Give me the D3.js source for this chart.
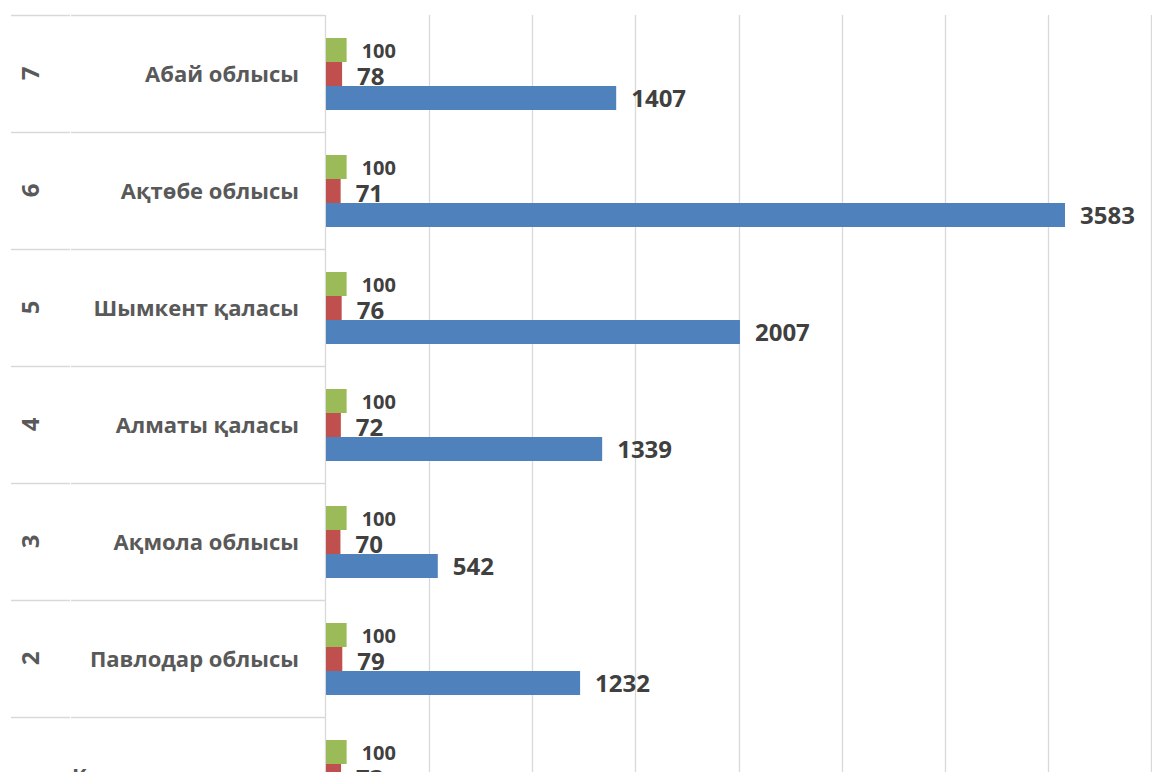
<!DOCTYPE html>
<html>
<head>
<meta charset="utf-8">
<script src="https://cdn.jsdelivr.net/npm/d3@7"></script>
<style>
  html, body { margin: 0; padding: 0; background: #fff; overflow: hidden; }
  svg { display: block; }
  text { font-family: "Open Sans", "DejaVu Sans", sans-serif; font-weight: bold; }
</style>
</head>
<body>
<svg id="chart" width="1152" height="772"></svg>
<script>
// Categories listed top to bottom
const ranks = ["7", "6", "5", "4", "3", "2", "1"];
const regions = ["Абай облысы", "Ақтөбе облысы", "Шымкент қаласы", "Алматы қаласы", "Ақмола облысы", "Павлодар облысы", "Қызылорда қаласы"];
const greenValues = [100, 100, 100, 100, 100, 100, 100];
const redValues = [78, 71, 76, 72, 70, 79, 73];
const blueValues = [1407, 3583, 2007, 1339, 542, 1232, 1150];
const xTicks = [0, 500, 1000, 1500, 2000, 2500, 3000, 3500, 4000];

const svg = d3.select("#chart");
const x = d3.scaleLinear().domain([0, 4000]).range([326, 1151]);
const y = d3.scaleBand().domain(ranks).range([15, 15 + 117 * ranks.length]).padding(0);
const seriesKeys = ["green", "red", "blue"];
const inner = d3.scaleBand().domain(seriesKeys).range([23, 95]).padding(0);
const colors = { green: "#9BBB59", red: "#C0504D", blue: "#4F81BD" };
const gridColor = "#d9d9d9";

// Gridlines
svg.append("g").selectAll("line").data(xTicks.slice(1)).join("line")
  .attr("x1", d => Math.round(x(d)) + 0.5).attr("x2", d => Math.round(x(d)) + 0.5)
  .attr("y1", 15).attr("y2", 772)
  .attr("stroke", gridColor).attr("stroke-width", 1.3);

// Axis line
svg.append("line").attr("x1", 325.5).attr("x2", 325.5).attr("y1", 15).attr("y2", 772)
  .attr("stroke", gridColor).attr("stroke-width", 1.3);

// Category separators (two-level axis)
const bounds = ranks.map(r => y(r));
const sep = svg.append("g");
sep.selectAll("line.outer").data(bounds).join("line").attr("class", "outer")
  .attr("x1", 11).attr("x2", 70).attr("y1", d => d + 0.5).attr("y2", d => d + 0.5)
  .attr("stroke", gridColor).attr("stroke-width", 1.3);
sep.selectAll("line.inner").data(bounds).join("line").attr("class", "inner")
  .attr("x1", 71).attr("x2", 325).attr("y1", d => d + 0.5).attr("y2", d => d + 0.5)
  .attr("stroke", gridColor).attr("stroke-width", 1.3);

// Data rows
const rows = ranks.map((r, i) => ({
  rank: r, region: regions[i],
  vals: { green: greenValues[i], red: redValues[i], blue: blueValues[i] }
}));

const g = svg.append("g").selectAll("g.row").data(rows).join("g")
  .attr("class", "row").attr("transform", d => `translate(0,${y(d.rank)})`);

seriesKeys.forEach(k => {
  g.append("rect")
    .attr("x", x(0))
    .attr("y", inner(k))
    .attr("width", d => x(d.vals[k]) - x(0))
    .attr("height", inner.bandwidth())
    .attr("fill", colors[k]);
});

const labelCfg = {
  green: { size: 20, dy: 7.5 },
  red: { size: 24, dy: 11 },
  blue: { size: 24, dy: 9 }
};
seriesKeys.forEach(k => {
  g.append("text")
    .attr("x", d => x(d.vals[k]) + 15)
    .attr("y", inner(k) + inner.bandwidth() / 2 + labelCfg[k].dy)
    .attr("font-size", labelCfg[k].size)
    .attr("fill", "#404040")
    .text(d => d.vals[k]);
});

// Region labels
g.append("text")
  .attr("x", 299)
  .attr("y", y.bandwidth() / 2 + 8)
  .attr("text-anchor", "end")
  .attr("font-size", 22)
  .attr("fill", "#595959")
  .text(d => d.region);

// Rank labels (rotated)
g.append("text")
  .attr("transform", `translate(39,${y.bandwidth() / 2}) rotate(-90)`)
  .attr("text-anchor", "middle")
  .attr("font-size", 24)
  .attr("fill", "#595959")
  .text(d => d.rank);
</script>
</body>
</html>
